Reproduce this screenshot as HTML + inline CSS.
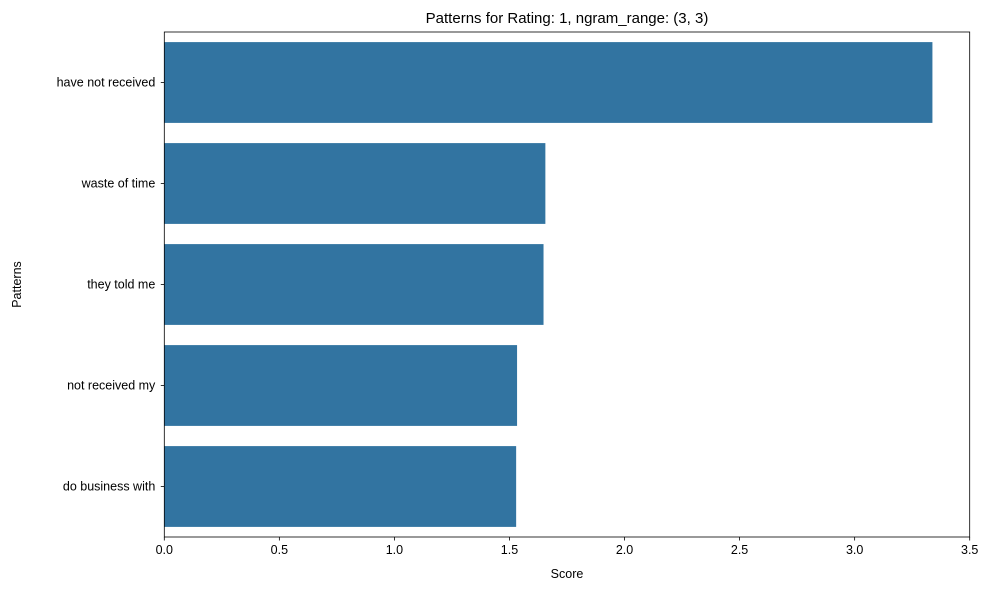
<!DOCTYPE html>
<html><head><meta charset="utf-8"><style>
body{margin:0;background:#fff;}
svg{display:block;font-family:"Liberation Sans","DejaVu Sans",sans-serif;}
</style></head><body>
<svg id="chart" width="989" height="590"></svg>
<script>
const categories=["have not received","waste of time","they told me","not received my","do business with"];
const scores=[3.338,1.656,1.648,1.533,1.529];
const ticks=[0,0.5,1,1.5,2,2.5,3,3.5];
const tickLabels=["0.0","0.5","1.0","1.5","2.0","2.5","3.0","3.5"];
const NS="http://www.w3.org/2000/svg";
const svg=document.getElementById('chart');
const L=164.3,R=969.7,T=32,B=537,xmax=3.5;
const x=v=>L+(R-L)*v/xmax;
const band=(B-T)/categories.length;
const y=i=>T+band*i;
function mk(t,a,txt){const e=document.createElementNS(NS,t);for(const k in a)e.setAttribute(k,a[k]);if(txt!==undefined)e.textContent=txt;svg.appendChild(e);return e;}
categories.forEach((c,i)=>{
 const r=mk('rect',{x:x(0),y:y(i)+band*0.1,width:x(scores[i])-x(0),height:band*0.8,fill:'#3274a1'});
 
 
 const cy=y(i)+band/2;
 const tk=mk('line',{x1:L-3.5,x2:L,y1:cy,y2:cy,stroke:'#000','stroke-width':0.8});
 
 
 const lb=mk('text',{x:L-9,y:cy+4,'text-anchor':'end','font-size':12.5,fill:'#000'},c);
 
 
});
ticks.forEach((t,i)=>{
 const tk=mk('line',{x1:x(t),x2:x(t),y1:B,y2:B+3.5,stroke:'#000','stroke-width':0.8});
 
 
 const lb=mk('text',{x:x(t),y:B+17,'text-anchor':'middle','font-size':12.5,fill:'#000'},tickLabels[i]);
 
 
});
const fr=mk('rect',{x:L,y:T,width:R-L,height:B-T,fill:'none',stroke:'#000','stroke-width':0.8});


const ti=mk('text',{x:(L+R)/2,y:T-9,'text-anchor':'middle','font-size':15,fill:'#000'},'Patterns for Rating: 1, ngram_range: (3, 3)');


const xt=mk('text',{x:(L+R)/2,y:578,'text-anchor':'middle','font-size':12.5,fill:'#000'},'Score');


const yt=mk('text',{x:21,y:(T+B)/2,'text-anchor':'middle','font-size':12.5,fill:'#000',transform:'rotate(-90 21 '+((T+B)/2)+')'},'Patterns');


</script>
</body></html>
